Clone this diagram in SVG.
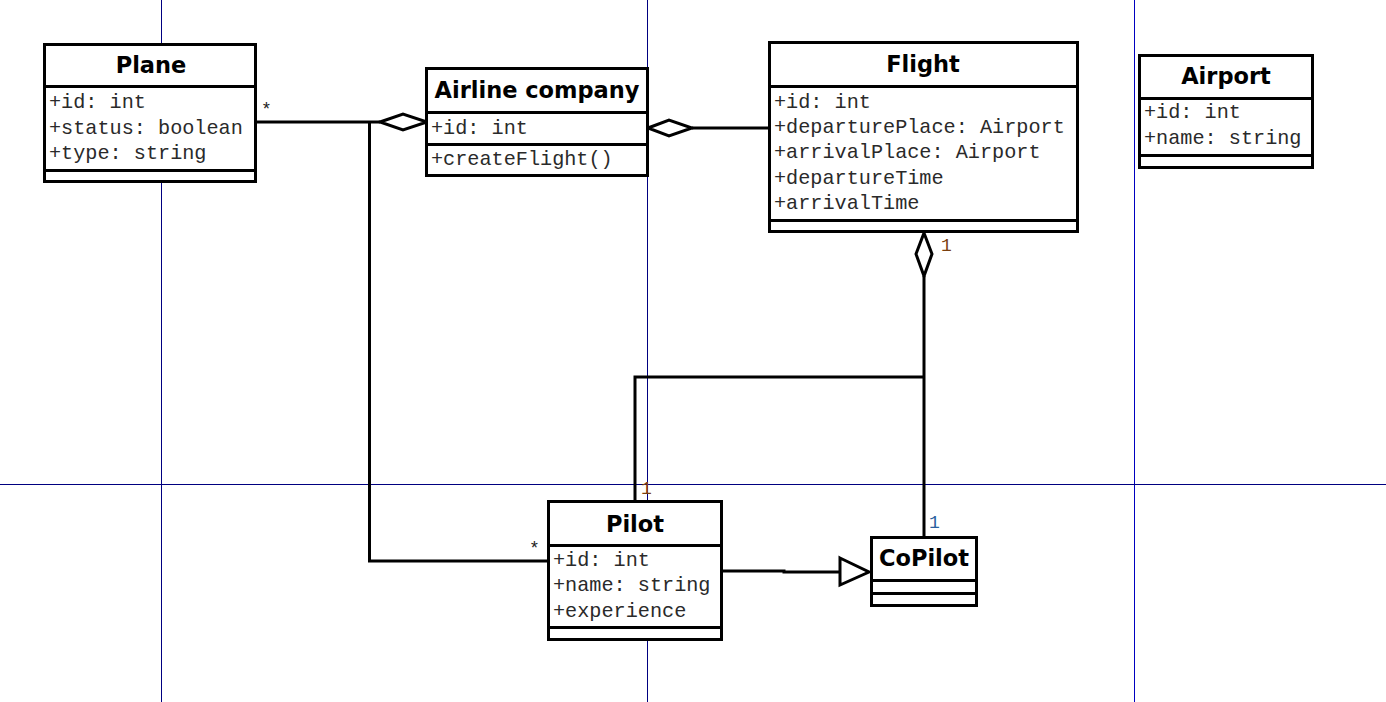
<svg xmlns="http://www.w3.org/2000/svg" width="1386" height="702" viewBox="0 0 1386 702">
<style>
.grid{stroke:#000080;stroke-width:1;fill:none}
.gridb{stroke:#0000c0;stroke-width:1;fill:none}
.box{fill:#fff;stroke:#000;stroke-width:3}
.sep{stroke:#000;stroke-width:3;fill:none}
.title{font-family:"DejaVu Sans",sans-serif;font-weight:bold;font-size:22.5px;fill:#000;text-anchor:middle}
.attr{font-family:"Liberation Mono","Courier New",monospace;font-size:20.2px;fill:#2a2a2a}
.line{stroke:#000;stroke-width:3;fill:none}
.head{stroke:#000;stroke-width:3;fill:#fff;stroke-linejoin:miter}
.mult{font-family:"Liberation Mono","Courier New",monospace;font-size:18px;fill:#222}
.brown{fill:#7a4010}
.blue{fill:#2a5f9e}
</style>
<rect width="1386" height="702" fill="#fff"/>
<g id="gridlines">
<line class="grid" x1="161.5" y1="0" x2="161.5" y2="702"/>
<line class="grid" x1="647.5" y1="0" x2="647.5" y2="702"/>
<line class="gridb" x1="1134.5" y1="0" x2="1134.5" y2="702"/>
<line class="grid" x1="0" y1="484.5" x2="1386" y2="484.5"/>
</g>
<g id="connectors">
<polyline class="line" points="256,122 380,122"/>
<polyline class="line" points="369.5,122 369.5,561 548,561"/>
<polygon class="head" points="380,122 403,114 427,122 403,130"/>
<polyline class="line" points="692,128 770,128"/>
<polygon class="head" points="648,128 669,120 692,128 669,136"/>
<polyline class="line" points="924,276 924,537"/>
<polyline class="line" points="924,377 635,377 635,502"/>
<polygon class="head" points="924,233 932,254 924,276 916,254"/>
<polyline class="line" points="722,571 784,571 784,572 840,572"/>
<polygon class="head" points="840,558 869,572 840,585"/>
<text class="mult" x="261" y="115">*</text>
<text class="mult" x="529" y="554">*</text>
<text class="mult brown" x="941" y="251">1</text>
<text class="mult brown" x="641" y="494">1</text>
<text class="mult blue" x="929" y="528">1</text>
</g>
<g id="Plane">
<rect class="box" x="44.5" y="44.5" width="211" height="137"/>
<line class="sep" x1="44.5" y1="86.5" x2="255.5" y2="86.5"/>
<line class="sep" x1="44.5" y1="170.5" x2="255.5" y2="170.5"/>
<text class="title" x="151" y="73">Plane</text>
<text class="attr" x="49" y="108">+id: int</text>
<text class="attr" x="49" y="134">+status: boolean</text>
<text class="attr" x="49" y="159">+type: string</text>
</g>
<g id="AirlineCompany">
<rect class="box" x="426.5" y="68.5" width="221" height="107"/>
<line class="sep" x1="426.5" y1="112.5" x2="647.5" y2="112.5"/>
<line class="sep" x1="426.5" y1="144.5" x2="647.5" y2="144.5"/>
<text class="title" x="537" y="98">Airline company</text>
<text class="attr" x="431" y="134">+id: int</text>
<text class="attr" x="431" y="165">+createFlight()</text>
</g>
<g id="Flight">
<rect class="box" x="769.5" y="42.5" width="308" height="189"/>
<line class="sep" x1="769.5" y1="86.5" x2="1077.5" y2="86.5"/>
<line class="sep" x1="769.5" y1="220.5" x2="1077.5" y2="220.5"/>
<text class="title" x="923" y="72">Flight</text>
<text class="attr" x="774" y="108">+id: int</text>
<text class="attr" x="774" y="133">+departurePlace: Airport</text>
<text class="attr" x="774" y="158">+arrivalPlace: Airport</text>
<text class="attr" x="774" y="184">+departureTime</text>
<text class="attr" x="774" y="209">+arrivalTime</text>
</g>
<g id="Airport">
<rect class="box" x="1139.5" y="55.5" width="173" height="112"/>
<line class="sep" x1="1139.5" y1="98.5" x2="1312.5" y2="98.5"/>
<line class="sep" x1="1139.5" y1="155.5" x2="1312.5" y2="155.5"/>
<text class="title" x="1226" y="84">Airport</text>
<text class="attr" x="1144" y="118">+id: int</text>
<text class="attr" x="1144" y="144">+name: string</text>
</g>
<g id="Pilot">
<rect class="box" x="548.5" y="501.5" width="173" height="138"/>
<line class="sep" x1="548.5" y1="545.5" x2="721.5" y2="545.5"/>
<line class="sep" x1="548.5" y1="627.5" x2="721.5" y2="627.5"/>
<text class="title" x="635" y="532">Pilot</text>
<text class="attr" x="553" y="566">+id: int</text>
<text class="attr" x="553" y="591">+name: string</text>
<text class="attr" x="553" y="617">+experience</text>
</g>
<g id="CoPilot">
<rect class="box" x="871.5" y="537.5" width="105" height="68"/>
<line class="sep" x1="871.5" y1="580.5" x2="976.5" y2="580.5"/>
<line class="sep" x1="871.5" y1="593.5" x2="976.5" y2="593.5"/>
<text class="title" x="924" y="566">CoPilot</text>
</g>
</svg>
